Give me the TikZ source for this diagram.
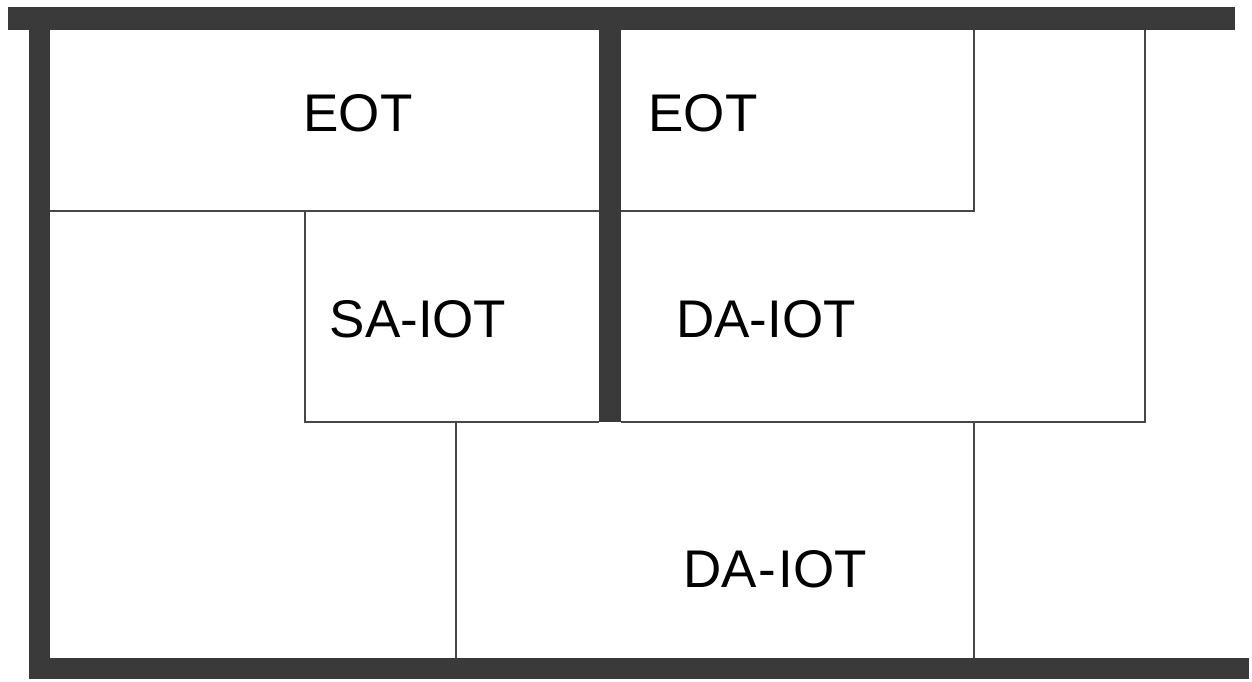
\documentclass[tikz,border=0pt]{standalone}
\usepackage{fontspec}
\setmainfont{Liberation Sans}
\definecolor{wallc}{HTML}{3A3A3A}
\definecolor{linec}{HTML}{474747}
\begin{document}
\begin{tikzpicture}[x=1pt,y=-1pt,
  wall/.style={fill=wallc,draw=none},
  thin/.style={draw=linec,line width=1.6pt},
  lbl/.style={font=\fontsize{53}{53}\selectfont,text=black,inner sep=0pt}]
\useasboundingbox[fill=white] (0,0) rectangle (1252,682);
% thick walls
\fill[wall] (8,7) rectangle (1235,30);
\fill[wall] (29,30) rectangle (50,679);
\fill[wall] (29,658) rectangle (1249,679);
\fill[wall] (599,30) rectangle (621,422);
% thin partitions
\coordinate (a1) at (50,211);
\coordinate (a2) at (599,211);
\coordinate (b1) at (621,211);
\coordinate (b2) at (974,211);
\coordinate (b3) at (974,30);
\coordinate (c1) at (1145,30);
\coordinate (c2) at (1145,422);
\coordinate (d1) at (305,211);
\coordinate (d2) at (305,422);
\coordinate (e1) at (621,422);
\coordinate (f1) at (456,422);
\coordinate (f2) at (456,658);
\coordinate (g1) at (974,422);
\coordinate (g2) at (974,658);
\draw[thin] (a1) -- (a2);
\draw[thin] (b1) -- (b2) -- (b3);
\draw[thin] (c1) -- (c2) -- (e1);
\draw[thin] (d1) -- (d2) -- (a2 |- d2);
\draw[thin] (f1) -- (f2);
\draw[thin] (g1) -- (g2);
% labels
\node[lbl] (eot1) at (358,113) {EOT};
\node[lbl] (eot2) at (703,113) {EOT};
\node[lbl] (saiot) at (418,319) {SA-IOT};
\node[lbl] (daiot1) at (766,319) {DA-IOT};
\node[lbl] (daiot2) at (775,569) {DA\kern2pt-\kern2pt IOT};
\end{tikzpicture}
\end{document}
